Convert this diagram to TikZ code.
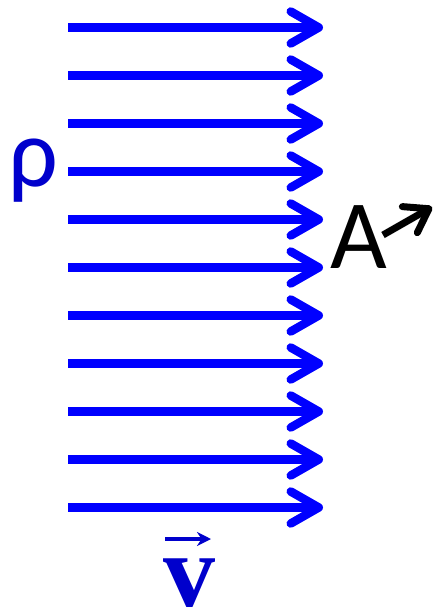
\documentclass[tikz,border=0pt]{standalone}
\usepackage{fontspec}
\setmainfont{Carlito}
\newfontfamily\vfont{Liberation Serif}
\usetikzlibrary{arrows.meta}
\definecolor{flowblue}{RGB}{0,0,255}
\definecolor{labelblue}{RGB}{0,0,204}
\tikzset{
  flowarrow/.style={draw=flowblue, line width=8.5pt,
    -{Straight Barb[length=28pt,width=32pt,round]}},
  areaarrow/.style={draw=black, line width=7pt,
    -{Straight Barb[length=22pt,width=30pt,round]}},
  vecarrow/.style={draw=labelblue, line width=3.5pt,
    -{Stealth[length=14pt,width=14pt]}},
  lbl/.style={inner sep=0pt, anchor=base}
}
\begin{document}
\begin{tikzpicture}[x=1pt,y=-1pt]
\useasboundingbox (0,0) rectangle (434,612);
\foreach \i in {0,...,10}{
  \coordinate (s\i) at (68,{27.5+48*\i});
  \coordinate (e\i) at (323,{27.5+48*\i});
  \draw[flowarrow] (s\i) -- (e\i);
}
\node[lbl, text=labelblue, font=\fontsize{98}{98}\selectfont] (rho) at (33,187) {ρ};
\node[lbl, text=black, font=\fontsize{98}{98}\selectfont] (A) at (359,268) {A};
\coordinate (a0) at (383,235);
\coordinate (a1) at (432,207);
\draw[areaarrow] (a0) -- (a1);
\node[lbl, text=labelblue, font=\vfont\bfseries\fontsize{104}{104}\selectfont] (v) at (189,606) {v};
\coordinate (v0) at (165,539);
\coordinate (v1) at (211,539);
\draw[vecarrow] (v0) -- (v1);
\end{tikzpicture}
\end{document}
